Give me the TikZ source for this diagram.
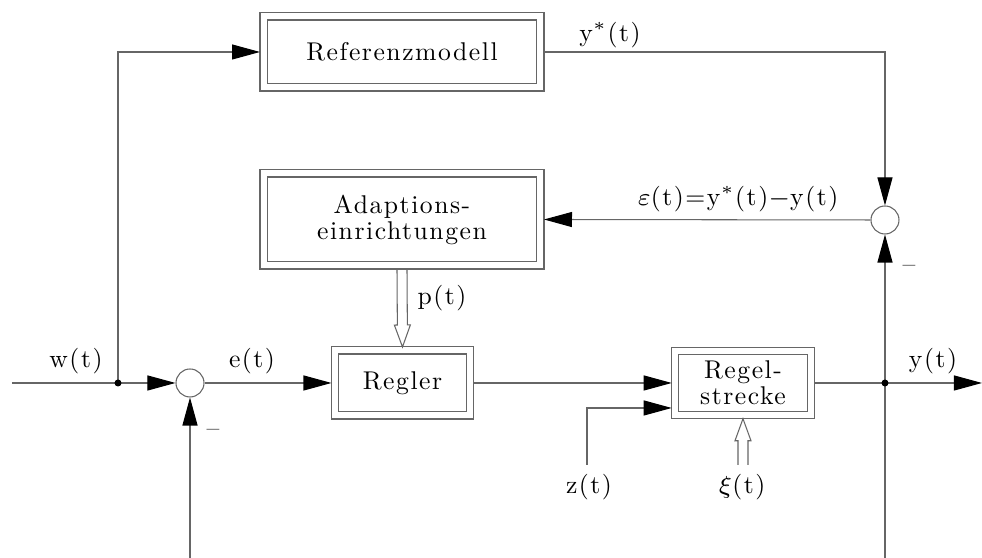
\documentclass[tikz,border=0pt]{standalone}
\usepackage{fontspec}
\setmainfont{lmroman10-regular.otf}[LetterSpace=6]
\usepackage{amsmath,amssymb}
\usetikzlibrary{calc}
\usetikzlibrary{arrows.meta}
\definecolor{linegray}{rgb}{0.4,0.4,0.4}
\tikzset{
  line/.style={draw=linegray, line width=0.3pt},
  sig/.style={line, -{Triangle[length=2.8mm,width=1.5mm,color=black]}},
  block/.style={line, double=white, double distance=0.6mm, inner sep=0pt, outer sep=0.35mm, align=center},
  summer/.style={line, circle, fill=white, inner sep=0pt, minimum size=2.8mm},
  junction/.style={circle, fill=black, inner sep=0pt, minimum size=0.7mm},
  labl/.style={inner sep=0pt, text=black}
}
\newcommand{\blk}[6]{\node[block, minimum width=#4cm, minimum height=#5cm] (#1) at ( #2 , #3 ) {#6};}
\newcommand{\labltext}[4]{\node[labl] (#1) at ( #2 , #3 ) {#4};}
\newcommand{\hollowarrow}[2]{%
  \coordinate (hb) at ($(#2)!2.2mm!(#1)$);
  \draw[line] ($(#1)!0.5mm!90:(#2)$) -- ($(hb)!0.5mm!90:(#2)$) -- ($(hb)!0.8mm!90:(#2)$)
    -- (#2) -- ($(hb)!0.8mm!-90:(#2)$) -- ($(hb)!0.5mm!-90:(#2)$) -- ($(#1)!0.5mm!-90:(#2)$);}

\begin{document}
\begin{tikzpicture}[x=0.1mm, y=-0.1mm, font=\fontsize{7.3}{7.4}\selectfont]
  \useasboundingbox (0,0) rectangle (982,558);

  % blocks
  \blk{ref}{402}{52}{2.77}{0.71}{Referenzmodell}
  \blk{adapt}{402}{219.5}{2.77}{0.92}{Adaptions-\\einrichtungen}
  \blk{regler}{402.5}{383}{1.35}{0.65}{Regler}
  \blk{strecke}{743}{383}{1.355}{0.645}{Regel-\\strecke}

  % summing points
  \node[summer] (s1) at (190,383) {};
  \node[summer] (s2) at (885,220) {};

  % branch points and free ends
  \coordinate (j1) at (118,383);
  \coordinate (j2) at (885,383);
  \coordinate (win) at (12,383);
  \coordinate (yout) at (982,383);
  \coordinate (fbot) at (190,558);
  \coordinate (ybot) at (885,558);
  \coordinate (zin) at (587,465);
  \coordinate (xi) at (743,465);

  % forward path
  \draw[line] (win) -- (j1);
  \draw[sig] (j1) -- (s1);
  \draw[sig] (s1) -- (regler.west);
  \draw[sig] (regler.east) -- (strecke.west);
  \draw[line] (strecke.east) -- (j2);
  \draw[sig] (j2) -- (yout);
  \draw[sig] (fbot) -- (s1);
  \draw[sig] (zin) |- ([yshift=-2.5mm]strecke.west);

  % model and adaption loop
  \draw[sig] (j1) |- (ref.west);
  \draw[sig] (ref.east) -| (s2.north);
  \draw[sig] (ybot) -- (s2);
  \draw[sig] (s2.west) -- (adapt.east);
  \hollowarrow{adapt.south}{regler.north}
  \hollowarrow{xi}{strecke.south}

  \node[junction] (d1) at (j1) {};
  \node[junction] (d2) at (j2) {};

  % signals
  \labltext{lw}{76}{361}{w(t)}
  \labltext{le}{252}{361}{e(t)}
  \labltext{lystar}{610}{35}{y\(^{*}\)(t)}
  \labltext{lp}{442}{298}{p(t)}
  \labltext{leps}{738}{199}{\(\varepsilon\)(t)=y\(^{*}\)(t)\(-\)y(t)}
  \labltext{lz}{589}{487}{z(t)}
  \labltext{lxi}{742}{487}{\(\xi\)(t)}
  \labltext{ly}{933}{361}{y(t)}
  \labltext{lm1}{213}{433}{--}
  \labltext{lm2}{909}{269}{--}
\end{tikzpicture}
\end{document}
